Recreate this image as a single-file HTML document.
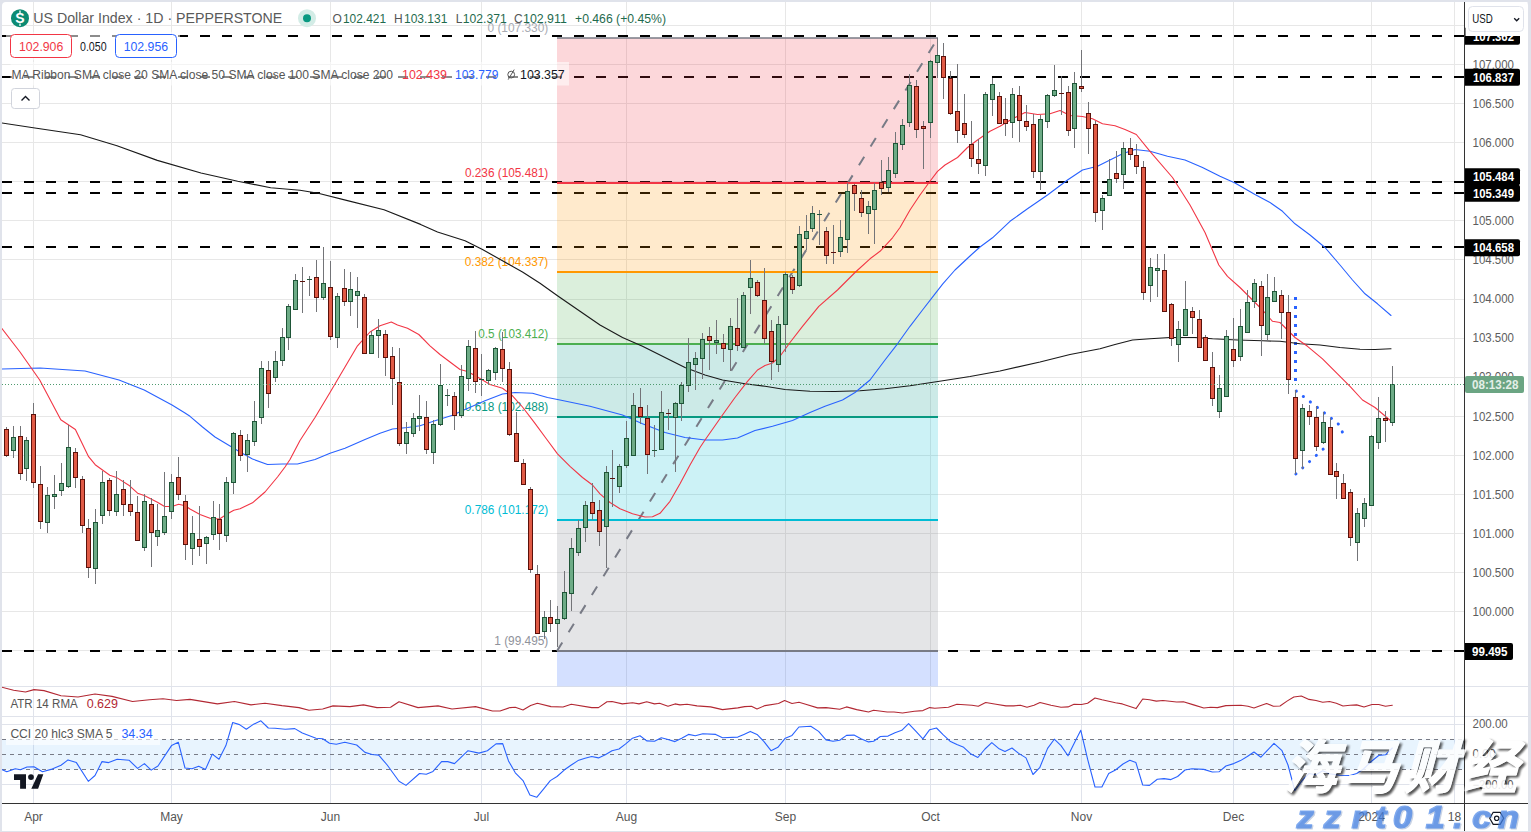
<!DOCTYPE html>
<html><head><meta charset="utf-8"><title>US Dollar Index chart</title>
<style>html,body{margin:0;padding:0;background:#e0e3eb}body{width:1531px;height:832px;overflow:hidden;font-family:"Liberation Sans",sans-serif}</style>
</head><body>
<svg width="1531" height="832" viewBox="0 0 1531 832" font-family="Liberation Sans, sans-serif" style="display:block">
<defs>
<clipPath id="cm"><rect x="2" y="2" width="1462.5" height="684.5"/></clipPath>
<clipPath id="call"><rect x="2" y="2" width="1462.5" height="801.5"/></clipPath>
<filter id="blur" x="-10%" y="-10%" width="120%" height="130%"><feGaussianBlur stdDeviation="0.8"/></filter>
</defs>
<rect width="1531" height="832" fill="#e0e3eb"/>
<path d="M2 6 Q2 2 6 2 H1524 Q1528 2 1528 6 V831 H2 Z" fill="#fff"/>
<path d="M2 650.5 H1464.5 M2 611.5 H1464.5 M2 572.5 H1464.5 M2 533.5 H1464.5 M2 494.5 H1464.5 M2 455.5 H1464.5 M2 416.5 H1464.5 M2 377.5 H1464.5 M2 338.5 H1464.5 M2 299.5 H1464.5 M2 259.5 H1464.5 M2 220.5 H1464.5 M2 181.5 H1464.5 M2 142.5 H1464.5 M2 103.5 H1464.5 M2 64.5 H1464.5 M2 25.5 H1464.5 M33.5 2 V686.5 M171.5 2 V686.5 M330.5 2 V686.5 M481.5 2 V686.5 M626.5 2 V686.5 M785.5 2 V686.5 M930.5 2 V686.5 M1081.5 2 V686.5 M1233.5 2 V686.5 M1371.5 2 V686.5 M1454.5 2 V686.5" stroke="#e7e7e7" stroke-width="1" fill="none"/>
<path d="M33.5 686.5 V803.5 M171.5 686.5 V803.5 M330.5 686.5 V803.5 M481.5 686.5 V803.5 M626.5 686.5 V803.5 M785.5 686.5 V803.5 M930.5 686.5 V803.5 M1081.5 686.5 V803.5 M1233.5 686.5 V803.5 M1371.5 686.5 V803.5 M1454.5 686.5 V803.5 M2 724.5 H1464.5 M2 784.5 H1464.5" stroke="#e0e3eb" stroke-width="1" fill="none"/>
<path d="M2 686.5 H1528 M2 716.5 H1528" stroke="#e0e3eb" stroke-width="1" fill="none"/>
<g clip-path="url(#cm)">
<path d="M2 36 H1464.5" stroke="#000" stroke-width="2" stroke-dasharray="10 12" fill="none"/>
<path d="M2 77 H1464.5" stroke="#000" stroke-width="2" stroke-dasharray="10 12" fill="none"/>
<path d="M2 182 H1464.5" stroke="#000" stroke-width="2" stroke-dasharray="10 12" fill="none"/>
<path d="M2 193 H1464.5" stroke="#000" stroke-width="2" stroke-dasharray="10 12" fill="none"/>
<path d="M2 247 H1464.5" stroke="#000" stroke-width="2" stroke-dasharray="10 12" fill="none"/>
<path d="M2 651 H1464.5" stroke="#000" stroke-width="2" stroke-dasharray="10 12" fill="none"/>
<rect x="557" y="38.0" width="381" height="145.0" fill="rgba(242,54,69,0.2)"/>
<rect x="557" y="183.0" width="381" height="89.0" fill="rgba(255,152,0,0.2)"/>
<rect x="557" y="272.0" width="381" height="72.0" fill="rgba(76,175,80,0.2)"/>
<rect x="557" y="344.0" width="381" height="73.0" fill="rgba(0,150,136,0.2)"/>
<rect x="557" y="417.0" width="381" height="103.0" fill="rgba(0,188,212,0.2)"/>
<rect x="557" y="520.0" width="381" height="131.0" fill="rgba(120,123,134,0.2)"/>
<rect x="557" y="651.0" width="381" height="35.5" fill="rgba(41,98,255,0.2)"/>
<path d="M557 651.0 L938 38.0" stroke="#787b86" stroke-width="2" stroke-dasharray="10 12" fill="none"/>
<path d="M557 38.0 H938" stroke="#787b86" stroke-width="1.5"/>
<path d="M557 183.0 H938" stroke="#f23645" stroke-width="2"/>
<path d="M557 272.0 H938" stroke="#ff9800" stroke-width="2"/>
<path d="M557 344.0 H938" stroke="#4caf50" stroke-width="2"/>
<path d="M557 417.0 H938" stroke="#089981" stroke-width="2"/>
<path d="M557 520.0 H938" stroke="#00bcd4" stroke-width="2"/>
<path d="M557 651.0 H938" stroke="#787b86" stroke-width="2"/>
<text x="487.5" y="32.2" font-size="12" fill="#a9abb3" textLength="60.8" lengthAdjust="spacingAndGlyphs" >0 (107.330)</text>
<text x="464.9" y="177.2" font-size="12" fill="#f23645" textLength="83.4" lengthAdjust="spacingAndGlyphs" >0.236 (105.481)</text>
<text x="464.8" y="266.2" font-size="12" fill="#ff9800" textLength="83.5" lengthAdjust="spacingAndGlyphs" >0.382 (104.337)</text>
<text x="478.3" y="338.2" font-size="12" fill="#4caf50" textLength="70.0" lengthAdjust="spacingAndGlyphs" >0.5 (103.412)</text>
<text x="464.8" y="411.2" font-size="12" fill="#089981" textLength="83.5" lengthAdjust="spacingAndGlyphs" >0.618 (102.488)</text>
<text x="464.8" y="514.2" font-size="12" fill="#00bcd4" textLength="83.5" lengthAdjust="spacingAndGlyphs" >0.786 (101.172)</text>
<text x="494.3" y="645.2" font-size="12" fill="#8f929b" textLength="54.0" lengthAdjust="spacingAndGlyphs" >1 (99.495)</text>
</g>
<g clip-path="url(#cm)">
<path d="M1295.5 297 V382" stroke="#2962ff" stroke-width="3" stroke-dasharray="3 6" fill="none"/>
<path d="M1296.3 391 L1338.1 423.6 L1342.6 432.5" stroke="#2962ff" stroke-width="3" stroke-dasharray="0.1 8.8" stroke-linecap="round" fill="none"/>
<path d="M1295.9 474 L1336.5 437" stroke="#2962ff" stroke-width="3" stroke-dasharray="0.1 9.1" stroke-linecap="round" fill="none"/>
</g>
<g clip-path="url(#cm)">
<polyline points="1.8,123.0 36.6,128.2 80.5,134.7 117.0,145.7 157.3,160.4 201.0,173.0 237.7,181.2 270.7,187.8 300.0,190.3 318.2,193.3 347.5,200.6 384.0,209.7 420.6,224.4 437.5,232.0 465.0,240.8 482.5,249.5 502.5,260.8 522.5,272.0 540.0,283.3 557.5,295.8 580.0,311.3 600.0,325.0 622.5,337.5 642.5,346.3 665.0,357.5 685.0,367.5 705.0,375.0 722.5,380.0 745.0,383.8 765.0,386.3 785.0,389.5 810.0,391.3 835.0,391.5 860.0,390.8 885.0,388.8 910.0,385.8 942.8,380.8 970.0,376.5 1000.0,371.0 1040.0,362.0 1070.0,354.5 1100.0,348.8 1115.0,344.5 1132.5,340.0 1150.0,338.8 1170.0,337.5 1195.0,337.5 1212.5,338.8 1237.5,340.0 1262.5,340.8 1280.0,341.3 1300.0,343.8 1320.0,345.0 1340.0,347.5 1360.0,349.3 1375.0,349.5 1391.0,348.8" fill="none" stroke="#1a1a1a" stroke-width="1.15" stroke-linejoin="round" stroke-linecap="round" />
<polyline points="0.0,369.0 40.0,368.0 85.0,371.0 119.0,380.0 144.2,390.0 172.0,405.0 185.0,413.0 190.0,416.3 202.5,427.0 215.0,437.0 227.5,444.5 240.0,452.0 252.5,459.0 267.5,464.5 282.5,464.0 297.5,464.0 315.0,459.5 330.0,453.3 345.0,448.3 365.0,439.5 380.0,433.3 392.5,429.0 407.5,427.5 420.0,425.8 435.0,420.8 452.5,415.3 465.0,409.5 485.0,400.8 502.5,394.0 515.0,392.5 532.5,393.3 547.5,397.5 560.0,400.0 590.0,406.3 622.5,415.0 642.5,423.8 665.0,432.5 685.0,437.5 705.0,440.0 722.5,440.0 737.5,438.0 755.0,430.5 772.5,426.3 792.5,420.5 810.0,412.5 825.0,406.3 842.5,400.0 855.0,392.5 870.0,380.0 885.0,360.0 897.5,343.8 910.0,326.3 922.5,310.0 935.0,293.8 942.8,283.8 955.0,270.0 970.0,256.0 980.0,247.0 992.5,237.8 1010.0,221.3 1027.5,208.8 1047.5,195.0 1067.5,180.0 1082.5,170.0 1097.5,166.3 1110.0,160.0 1122.5,153.8 1135.0,149.5 1150.0,151.3 1167.5,156.3 1185.0,160.0 1202.5,167.5 1220.0,176.3 1235.0,183.0 1255.0,194.5 1270.0,202.5 1282.5,211.3 1295.0,223.8 1310.0,235.0 1325.0,247.5 1340.0,265.0 1352.5,280.0 1365.0,293.8 1377.5,303.8 1391.0,315.5" fill="none" stroke="#2962ff" stroke-width="1.1" stroke-linejoin="round" stroke-linecap="round" />
<polyline points="0.0,326.0 20.0,352.0 39.7,380.0 60.8,419.7 75.4,429.5 88.6,456.7 95.2,464.7 109.8,475.2 116.4,477.4 129.6,485.8 137.6,493.2 144.2,495.6 157.4,502.2 164.6,506.5 172.0,506.5 178.6,504.3 185.2,505.7 190.0,509.0 200.0,514.5 210.0,518.3 219.5,519.0 227.5,513.8 233.8,510.3 240.0,508.8 252.5,502.8 265.0,492.0 277.5,477.0 285.0,467.0 290.0,459.5 300.0,440.5 315.0,417.5 330.0,392.5 345.0,367.0 357.5,345.8 370.0,332.0 380.0,325.8 391.3,322.0 397.5,325.0 407.5,328.3 418.8,334.5 430.0,345.8 440.0,354.5 450.0,362.0 460.0,369.5 467.5,371.5 477.5,377.0 490.0,384.5 502.5,388.3 512.5,395.8 522.5,407.0 535.0,423.3 546.5,439.0 557.5,453.8 570.0,466.3 582.5,477.5 592.5,485.0 600.0,493.8 610.0,502.5 620.0,508.8 632.5,513.8 645.0,517.0 652.5,516.8 660.0,513.3 670.0,501.3 680.0,483.8 690.0,465.0 700.0,447.5 705.0,440.0 722.5,415.0 735.0,397.5 747.5,381.3 757.5,370.0 765.0,365.5 772.5,363.0 780.0,356.3 790.0,342.5 802.5,326.3 818.8,306.3 837.5,290.0 855.0,272.5 870.0,258.8 880.0,251.3 892.5,237.8 900.0,227.5 910.0,210.0 920.0,195.0 930.0,181.3 937.5,171.3 945.0,165.0 957.5,157.5 967.5,147.5 977.5,140.0 990.0,131.3 1000.0,126.3 1012.5,118.8 1025.0,112.5 1037.5,114.5 1050.0,113.8 1060.0,110.5 1070.0,115.5 1082.5,116.5 1092.5,118.8 1102.5,123.8 1115.0,125.8 1125.0,129.5 1136.3,134.5 1150.0,151.3 1172.5,177.5 1190.0,205.0 1205.0,232.5 1218.8,265.0 1227.5,276.3 1240.0,287.5 1250.0,297.5 1262.5,310.0 1272.5,321.3 1280.0,322.5 1290.0,332.5 1295.0,337.5 1307.5,346.3 1322.5,358.8 1337.5,373.8 1350.0,386.3 1362.5,400.0 1375.0,407.5 1391.0,421.0" fill="none" stroke="#f23645" stroke-width="1.1" stroke-linejoin="round" stroke-linecap="round" />
</g>
<g clip-path="url(#cm)" shape-rendering="crispEdges">
<path d="M6.5 427 V457 M13.5 426 V458 M20.5 426 V480 M26.5 437 V481 M33.5 403 V488 M40.5 466 V529 M47.5 487 V533 M54.5 475 V509 M61.5 463 V496 M68.5 425 V488 M75.5 448 V488 M82.5 476 V533 M88.5 519 V578 M95.5 509 V584 M102.5 471 V524 M109.5 478 V516 M116.5 471 V516 M123.5 480 V516 M130.5 480 V516 M137.5 496 V541 M144.5 494 V551 M151.5 498 V567 M157.5 504 V546 M164.5 472 V535 M171.5 474 V519 M178.5 457 V500 M185.5 495 V560 M192.5 516 V565 M199.5 506 V556 M206.5 536 V564 M213.5 501 V540 M219.5 504 V550 M226.5 477 V542 M233.5 432 V494 M240.5 430 V461 M247.5 434 V472 M254.5 401 V446 M261.5 361 V424 M268.5 361 V408 M275.5 351 V382 M282.5 328 V366 M288.5 304 V350 M295.5 274 V310 M302.5 267 V313 M309.5 276 V296 M316.5 260 V312 M323.5 247 V300 M330.5 261 V340 M337.5 293 V348 M344.5 269 V306 M350.5 272 V316 M357.5 277 V328 M364.5 294 V354 M371.5 331 V354 M378.5 319 V358 M385.5 330 V376 M392.5 347 V405 M399.5 348 V446 M406.5 422 V454 M413.5 413 V437 M419.5 395 V431 M426.5 401 V454 M433.5 420 V464 M440.5 364 V426 M447.5 389 V406 M454.5 392 V430 M461.5 365 V418 M468.5 340 V391 M475.5 331 V393 M481.5 354 V396 M488.5 369 V385 M495.5 347 V380 M502.5 332 V382 M509.5 362 V436 M516.5 412 V462 M523.5 459 V485 M530.5 487 V573 M537.5 565 V634 M544.5 611 V639 M550.5 600 V632 M557.5 606 V647 M564.5 571 V620 M571.5 538 V611 M578.5 520 V556 M585.5 501 V542 M592.5 483 V520 M599.5 500 V546 M606.5 466 V568 M612.5 450 V507 M619.5 464 V493 M626.5 421 V468 M633.5 393 V456 M640.5 388 V424 M647.5 405 V474 M654.5 425 V457 M661.5 391 V450 M668.5 409 V430 M675.5 402 V472 M681.5 382 V421 M688.5 338 V392 M695.5 352 V390 M702.5 333 V379 M709.5 327 V370 M716.5 320 V354 M723.5 334 V362 M730.5 318 V371 M737.5 298 V351 M743.5 292 V348 M750.5 260 V314 M757.5 280 V297 M764.5 268 V344 M771.5 320 V380 M778.5 316 V372 M785.5 272 V352 M792.5 275 V294 M799.5 226 V287 M806.5 215 V250 M812.5 206 V232 M819.5 210 V245 M826.5 227 V264 M833.5 225 V264 M840.5 220 V257 M847.5 183 V253 M854.5 184 V211 M861.5 190 V217 M868.5 201 V234 M874.5 183 V244 M881.5 160 V195 M888.5 157 V192 M895.5 132 V178 M902.5 119 V150 M909.5 74 V127 M916.5 80 V138 M923.5 121 V169 M930.5 60 V138 M937.5 38 V78 M943.5 43 V99 M950.5 71 V115 M957.5 64 V143 M964.5 94 V138 M971.5 121 V167 M978.5 139 V174 M985.5 92 V176 M992.5 78 V116 M999.5 92 V124 M1005.5 98 V136 M1012.5 88 V138 M1019.5 86 V142 M1026.5 105 V131 M1033.5 114 V178 M1040.5 115 V190 M1047.5 94 V128 M1054.5 65 V97 M1061.5 76 V115 M1068.5 86 V136 M1074.5 72 V148 M1081.5 50 V92 M1088.5 102 V154 M1095.5 121 V222 M1102.5 195 V230 M1109.5 159 V196 M1116.5 151 V183 M1123.5 142 V189 M1130.5 138 V160 M1136.5 144 V174 M1143.5 161 V300 M1150.5 258 V302 M1157.5 254 V297 M1164.5 254 V312 M1171.5 303 V346 M1178.5 321 V362 M1185.5 281 V336 M1192.5 307 V334 M1199.5 310 V348 M1205.5 335 V361 M1212.5 352 V406 M1219.5 375 V418 M1226.5 330 V397 M1233.5 318 V367 M1240.5 309 V361 M1247.5 290 V333 M1254.5 279 V308 M1261.5 281 V356 M1267.5 274 V341 M1274.5 277 V302 M1281.5 290 V339 M1288.5 295 V394 M1295.5 390 V474 M1302.5 404 V469 M1309.5 405 V425 M1316.5 406 V451 M1323.5 412 V444 M1330.5 418 V475 M1336.5 463 V499 M1343.5 474 V499 M1350.5 489 V546 M1357.5 508 V561 M1364.5 498 V527 M1371.5 435 V506 M1378.5 397 V449 M1385.5 411 V442 M1392.5 366 V426" stroke="#737478" stroke-width="1" fill="none"/>
<path d="M11.5 437.5 H15.5 V450.5 H11.5 Z M24.5 440.5 H28.5 V468.5 H24.5 Z M45.5 495.5 H49.5 V522.5 H45.5 Z M52.5 494.5 H56.5 V496.5 H52.5 Z M59.5 483.5 H63.5 V490.5 H59.5 Z M66.5 447.5 H70.5 V486.5 H66.5 Z M93.5 522.5 H97.5 V568.5 H93.5 Z M100.5 482.5 H104.5 V515.5 H100.5 Z M114.5 494.5 H118.5 V511.5 H114.5 Z M142.5 501.5 H146.5 V547.5 H142.5 Z M155.5 530.5 H159.5 V536.5 H155.5 Z M162.5 516.5 H166.5 V532.5 H162.5 Z M169.5 482.5 H173.5 V511.5 H169.5 Z M190.5 533.5 H194.5 V548.5 H190.5 Z M204.5 537.5 H208.5 V543.5 H204.5 Z M211.5 517.5 H215.5 V534.5 H211.5 Z M224.5 482.5 H228.5 V535.5 H224.5 Z M231.5 433.5 H235.5 V482.5 H231.5 Z M245.5 440.5 H249.5 V454.5 H245.5 Z M252.5 421.5 H256.5 V441.5 H252.5 Z M259.5 368.5 H263.5 V417.5 H259.5 Z M273.5 361.5 H277.5 V377.5 H273.5 Z M280.5 337.5 H284.5 V360.5 H280.5 Z M286.5 306.5 H290.5 V337.5 H286.5 Z M293.5 280.5 H297.5 V309.5 H293.5 Z M321.5 283.5 H325.5 V297.5 H321.5 Z M335.5 296.5 H339.5 V337.5 H335.5 Z M348.5 289.5 H352.5 V301.5 H348.5 Z M355.5 291.5 H359.5 V295.5 H355.5 Z M369.5 335.5 H373.5 V353.5 H369.5 Z M376.5 330.5 H380.5 V335.5 H376.5 Z M404.5 432.5 H408.5 V443.5 H404.5 Z M411.5 418.5 H415.5 V433.5 H411.5 Z M417.5 416.5 H421.5 V418.5 H417.5 Z M431.5 424.5 H435.5 V452.5 H431.5 Z M438.5 385.5 H442.5 V424.5 H438.5 Z M459.5 376.5 H463.5 V415.5 H459.5 Z M466.5 346.5 H470.5 V378.5 H466.5 Z M486.5 370.5 H490.5 V380.5 H486.5 Z M493.5 348.5 H497.5 V372.5 H493.5 Z M542.5 617.5 H546.5 V631.5 H542.5 Z M555.5 619.5 H559.5 V623.5 H555.5 Z M562.5 592.5 H566.5 V618.5 H562.5 Z M569.5 548.5 H573.5 V593.5 H569.5 Z M576.5 528.5 H580.5 V552.5 H576.5 Z M583.5 505.5 H587.5 V527.5 H583.5 Z M604.5 472.5 H608.5 V526.5 H604.5 Z M617.5 466.5 H621.5 V486.5 H617.5 Z M624.5 438.5 H628.5 V465.5 H624.5 Z M631.5 405.5 H635.5 V455.5 H631.5 Z M659.5 412.5 H663.5 V449.5 H659.5 Z M673.5 403.5 H677.5 V417.5 H673.5 Z M679.5 385.5 H683.5 V403.5 H679.5 Z M686.5 362.5 H690.5 V385.5 H686.5 Z M693.5 358.5 H697.5 V364.5 H693.5 Z M700.5 339.5 H704.5 V358.5 H700.5 Z M714.5 340.5 H718.5 V342.5 H714.5 Z M728.5 326.5 H732.5 V349.5 H728.5 Z M741.5 295.5 H745.5 V347.5 H741.5 Z M748.5 278.5 H752.5 V287.5 H748.5 Z M776.5 324.5 H780.5 V364.5 H776.5 Z M783.5 274.5 H787.5 V324.5 H783.5 Z M797.5 234.5 H801.5 V285.5 H797.5 Z M804.5 231.5 H808.5 V238.5 H804.5 Z M810.5 213.5 H814.5 V228.5 H810.5 Z M838.5 237.5 H842.5 V251.5 H838.5 Z M845.5 191.5 H849.5 V239.5 H845.5 Z M866.5 206.5 H870.5 V213.5 H866.5 Z M872.5 190.5 H876.5 V209.5 H872.5 Z M886.5 170.5 H890.5 V187.5 H886.5 Z M893.5 143.5 H897.5 V173.5 H893.5 Z M900.5 125.5 H904.5 V144.5 H900.5 Z M907.5 85.5 H911.5 V122.5 H907.5 Z M928.5 61.5 H932.5 V122.5 H928.5 Z M935.5 55.5 H939.5 V62.5 H935.5 Z M983.5 94.5 H987.5 V165.5 H983.5 Z M990.5 84.5 H994.5 V99.5 H990.5 Z M1010.5 94.5 H1014.5 V122.5 H1010.5 Z M1038.5 119.5 H1042.5 V171.5 H1038.5 Z M1045.5 95.5 H1049.5 V121.5 H1045.5 Z M1052.5 90.5 H1056.5 V95.5 H1052.5 Z M1072.5 83.5 H1076.5 V128.5 H1072.5 Z M1100.5 198.5 H1104.5 V210.5 H1100.5 Z M1107.5 179.5 H1111.5 V195.5 H1107.5 Z M1121.5 148.5 H1125.5 V174.5 H1121.5 Z M1148.5 267.5 H1152.5 V285.5 H1148.5 Z M1155.5 268.5 H1159.5 V270.5 H1155.5 Z M1176.5 329.5 H1180.5 V344.5 H1176.5 Z M1183.5 309.5 H1187.5 V335.5 H1183.5 Z M1217.5 388.5 H1221.5 V411.5 H1217.5 Z M1224.5 336.5 H1228.5 V396.5 H1224.5 Z M1238.5 326.5 H1242.5 V356.5 H1238.5 Z M1245.5 302.5 H1249.5 V332.5 H1245.5 Z M1252.5 283.5 H1256.5 V301.5 H1252.5 Z M1265.5 297.5 H1269.5 V334.5 H1265.5 Z M1272.5 291.5 H1276.5 V301.5 H1272.5 Z M1300.5 408.5 H1304.5 V450.5 H1300.5 Z M1321.5 422.5 H1325.5 V442.5 H1321.5 Z M1355.5 513.5 H1359.5 V542.5 H1355.5 Z M1362.5 503.5 H1366.5 V518.5 H1362.5 Z M1369.5 436.5 H1373.5 V505.5 H1369.5 Z M1376.5 418.5 H1380.5 V442.5 H1376.5 Z M1390.5 384.5 H1394.5 V422.5 H1390.5 Z" stroke="#1e5537" stroke-width="1" fill="#6dab86"/>
<path d="M4.5 429.5 H8.5 V455.5 H4.5 Z M18.5 436.5 H22.5 V473.5 H18.5 Z M31.5 414.5 H35.5 V482.5 H31.5 Z M38.5 484.5 H42.5 V521.5 H38.5 Z M73.5 452.5 H77.5 V477.5 H73.5 Z M80.5 479.5 H84.5 V525.5 H80.5 Z M86.5 528.5 H90.5 V567.5 H86.5 Z M107.5 480.5 H111.5 V510.5 H107.5 Z M121.5 489.5 H125.5 V504.5 H121.5 Z M128.5 504.5 H132.5 V511.5 H128.5 Z M135.5 512.5 H139.5 V540.5 H135.5 Z M149.5 504.5 H153.5 V532.5 H149.5 Z M176.5 477.5 H180.5 V494.5 H176.5 Z M183.5 501.5 H187.5 V544.5 H183.5 Z M197.5 539.5 H201.5 V546.5 H197.5 Z M217.5 519.5 H221.5 V533.5 H217.5 Z M238.5 435.5 H242.5 V455.5 H238.5 Z M266.5 370.5 H270.5 V393.5 H266.5 Z M314.5 277.5 H318.5 V297.5 H314.5 Z M328.5 287.5 H332.5 V336.5 H328.5 Z M342.5 288.5 H346.5 V301.5 H342.5 Z M362.5 297.5 H366.5 V353.5 H362.5 Z M383.5 334.5 H387.5 V357.5 H383.5 Z M390.5 356.5 H394.5 V378.5 H390.5 Z M397.5 382.5 H401.5 V443.5 H397.5 Z M424.5 417.5 H428.5 V449.5 H424.5 Z M452.5 396.5 H456.5 V415.5 H452.5 Z M473.5 348.5 H477.5 V381.5 H473.5 Z M500.5 349.5 H504.5 V368.5 H500.5 Z M507.5 369.5 H511.5 V434.5 H507.5 Z M514.5 433.5 H518.5 V461.5 H514.5 Z M521.5 463.5 H525.5 V484.5 H521.5 Z M528.5 489.5 H532.5 V569.5 H528.5 Z M535.5 574.5 H539.5 V633.5 H535.5 Z M548.5 617.5 H552.5 V623.5 H548.5 Z M590.5 502.5 H594.5 V513.5 H590.5 Z M597.5 510.5 H601.5 V531.5 H597.5 Z M638.5 407.5 H642.5 V416.5 H638.5 Z M645.5 418.5 H649.5 V454.5 H645.5 Z M707.5 336.5 H711.5 V340.5 H707.5 Z M721.5 343.5 H725.5 V348.5 H721.5 Z M735.5 328.5 H739.5 V345.5 H735.5 Z M755.5 282.5 H759.5 V295.5 H755.5 Z M762.5 300.5 H766.5 V338.5 H762.5 Z M769.5 331.5 H773.5 V361.5 H769.5 Z M790.5 277.5 H794.5 V289.5 H790.5 Z M824.5 231.5 H828.5 V255.5 H824.5 Z M852.5 185.5 H856.5 V193.5 H852.5 Z M859.5 198.5 H863.5 V212.5 H859.5 Z M879.5 182.5 H883.5 V188.5 H879.5 Z M914.5 86.5 H918.5 V129.5 H914.5 Z M921.5 126.5 H925.5 V128.5 H921.5 Z M941.5 56.5 H945.5 V77.5 H941.5 Z M948.5 78.5 H952.5 V113.5 H948.5 Z M955.5 111.5 H959.5 V130.5 H955.5 Z M962.5 123.5 H966.5 V134.5 H962.5 Z M969.5 144.5 H973.5 V158.5 H969.5 Z M976.5 159.5 H980.5 V163.5 H976.5 Z M997.5 96.5 H1001.5 V123.5 H997.5 Z M1003.5 119.5 H1007.5 V123.5 H1003.5 Z M1017.5 95.5 H1021.5 V120.5 H1017.5 Z M1024.5 121.5 H1028.5 V126.5 H1024.5 Z M1031.5 124.5 H1035.5 V171.5 H1031.5 Z M1066.5 92.5 H1070.5 V130.5 H1066.5 Z M1079.5 86.5 H1083.5 V88.5 H1079.5 Z M1086.5 113.5 H1090.5 V128.5 H1086.5 Z M1093.5 124.5 H1097.5 V212.5 H1093.5 Z M1114.5 173.5 H1118.5 V178.5 H1114.5 Z M1128.5 148.5 H1132.5 V154.5 H1128.5 Z M1134.5 155.5 H1138.5 V166.5 H1134.5 Z M1141.5 167.5 H1145.5 V292.5 H1141.5 Z M1162.5 270.5 H1166.5 V311.5 H1162.5 Z M1169.5 304.5 H1173.5 V338.5 H1169.5 Z M1190.5 311.5 H1194.5 V317.5 H1190.5 Z M1197.5 319.5 H1201.5 V347.5 H1197.5 Z M1203.5 337.5 H1207.5 V360.5 H1203.5 Z M1210.5 367.5 H1214.5 V398.5 H1210.5 Z M1231.5 349.5 H1235.5 V360.5 H1231.5 Z M1259.5 286.5 H1263.5 V325.5 H1259.5 Z M1279.5 295.5 H1283.5 V312.5 H1279.5 Z M1286.5 312.5 H1290.5 V379.5 H1286.5 Z M1293.5 397.5 H1297.5 V458.5 H1293.5 Z M1307.5 411.5 H1311.5 V416.5 H1307.5 Z M1314.5 417.5 H1318.5 V446.5 H1314.5 Z M1328.5 427.5 H1332.5 V474.5 H1328.5 Z M1334.5 471.5 H1338.5 V476.5 H1334.5 Z M1341.5 483.5 H1345.5 V498.5 H1341.5 Z M1348.5 492.5 H1352.5 V537.5 H1348.5 Z M1383.5 418.5 H1387.5 V420.5 H1383.5 Z" stroke="#5a110b" stroke-width="1" fill="#e05a45"/>
<path d="M307 279.5 H312 M445 395.5 H450 M479 379.5 H484 M652 450.5 H657 M817 214.5 H822" stroke="#1e5537" stroke-width="1" fill="none"/>
<path d="M300 281.5 H305 M610 478.5 H615 M666 413.5 H671 M831 252.5 H836 M1059 93.5 H1064" stroke="#5a110b" stroke-width="1" fill="none"/>
</g>
<g clip-path="url(#cm)">
<path d="M2 384.5 H1464.5" stroke="#4f9a6f" stroke-width="1" stroke-dasharray="1 2" fill="none"/>
</g>
<g clip-path="url(#call)">
<polyline points="1.7,687.2 13.6,690.3 25.5,692.0 34.0,689.6 44.0,690.6 61.0,695.7 78.0,697.0 95.0,694.0 112.0,696.4 132.5,701.5 149.5,699.8 163.0,698.8 176.6,700.5 190.0,699.4 217.4,703.9 234.4,701.5 251.0,704.9 265.0,703.2 282.0,705.6 299.0,707.6 309.0,710.3 322.7,709.0 333.0,705.9 350.0,706.6 363.5,704.9 377.0,707.6 390.6,707.3 399.0,701.8 418.0,707.6 438.0,705.9 452.0,709.0 475.5,706.6 492.5,711.0 500.0,711.0 510.0,707.6 515.3,707.3 523.0,710.0 530.6,705.6 537.4,703.2 551.0,706.6 563.0,707.0 571.3,704.2 591.7,707.6 598.5,707.6 607.0,701.8 612.0,701.5 622.3,703.9 632.5,702.8 639.0,703.9 646.7,701.8 654.5,703.9 659.6,703.2 668.0,706.2 675.0,703.9 680.0,704.9 687.0,704.2 697.0,705.9 710.6,706.9 722.5,709.6 737.8,707.9 744.6,706.6 751.4,706.2 757.0,709.0 765.0,705.6 778.5,703.5 784.6,700.5 792.0,703.5 799.0,702.2 805.7,704.2 817.6,707.9 826.0,707.6 839.7,709.3 846.5,706.9 856.7,709.6 868.5,712.0 873.6,710.3 887.2,712.0 894.0,712.0 902.5,713.0 914.4,711.3 922.9,710.6 929.7,707.6 934.8,708.3 948.4,707.3 956.9,704.2 972.0,705.2 978.3,706.2 985.7,702.5 996.0,704.2 1006.0,705.9 1013.6,705.9 1020.4,705.2 1027.0,707.3 1034.0,705.2 1040.0,702.5 1051.0,705.2 1061.0,707.3 1068.0,706.9 1074.0,704.2 1081.5,704.5 1087.6,703.2 1095.0,698.0 1102.0,699.8 1115.5,702.8 1122.3,703.9 1136.0,708.6 1142.7,699.0 1149.5,699.8 1156.3,701.1 1163.0,700.5 1176.6,702.0 1183.4,701.8 1193.6,704.9 1203.8,708.0 1210.6,707.3 1217.4,707.6 1225.9,705.6 1241.0,705.2 1248.0,706.2 1254.0,708.0 1261.5,705.2 1266.6,703.5 1273.4,706.2 1280.0,706.0 1287.0,701.1 1293.8,697.0 1301.3,696.0 1309.0,699.4 1316.0,700.5 1322.7,702.2 1329.5,701.5 1336.3,703.2 1343.0,706.0 1350.0,705.2 1356.7,704.9 1364.0,707.0 1372.0,704.5 1378.7,704.5 1385.5,706.2 1392.3,705.2" fill="none" stroke="#b22833" stroke-width="1.1" stroke-linejoin="round" stroke-linecap="round" />
<rect x="2" y="739.5" width="1462.5" height="30" fill="rgba(33,150,243,0.1)"/>
<path d="M2 739.5 H1464.5 M2 754.5 H1464.5 M2 769.5 H1464.5" stroke="#787b86" stroke-width="1" stroke-dasharray="4 4" fill="none"/>
<polyline points="1.7,769.4 6.8,771.8 15.3,768.7 20.4,769.7 27.0,767.0 34.0,766.7 42.5,771.8 51.0,769.4 61.0,765.3 68.0,759.9 76.4,762.6 88.3,781.3 95.0,775.5 102.0,761.6 108.7,762.6 117.2,759.2 129.0,760.2 137.6,768.4 144.4,763.6 151.2,770.1 158.0,766.0 171.5,745.6 178.3,742.2 185.0,768.0 192.0,768.7 198.7,766.3 205.5,769.4 212.3,754.1 219.0,759.2 225.9,745.6 232.7,722.5 239.5,724.6 246.3,729.3 253.0,724.6 260.9,720.8 268.3,728.0 275.0,728.3 285.3,729.3 294.8,728.6 302.3,733.0 316.0,738.2 322.7,738.8 329.5,743.3 336.3,744.3 344.8,742.2 356.7,745.0 365.0,752.4 372.0,754.5 378.7,755.1 387.2,765.0 399.0,781.3 406.0,785.4 419.5,773.5 426.3,774.2 433.0,771.4 441.6,761.6 447.7,761.6 454.5,763.6 468.0,750.7 479.0,753.1 487.4,750.7 496.0,743.9 502.7,743.6 508.5,760.9 515.3,772.8 523.0,780.6 529.9,794.9 536.7,797.3 543.5,789.1 550.3,780.6 557.0,776.5 564.5,769.8 571.3,765.0 578.0,760.6 585.0,758.2 591.7,756.5 598.5,757.9 605.3,754.8 612.0,750.7 619.0,749.0 625.7,743.9 632.5,738.2 640.0,735.8 646.7,740.9 654.5,741.2 661.3,737.8 668.0,739.5 675.0,741.6 681.7,738.2 688.5,734.4 695.3,735.8 702.8,733.7 715.7,734.4 722.5,737.8 737.8,737.1 743.9,734.4 750.3,731.4 757.0,734.4 764.0,741.6 771.0,750.7 777.9,747.3 785.3,738.2 792.0,735.4 798.9,727.0 810.8,726.3 818.6,731.4 826.0,739.9 833.0,741.2 839.7,740.2 846.5,735.4 854.0,735.1 861.0,738.8 868.5,741.9 873.6,741.2 880.4,736.5 888.0,736.1 895.0,732.7 901.8,730.3 908.6,723.6 916.0,731.4 922.9,738.8 929.7,729.7 936.5,728.0 943.3,734.8 950.0,741.2 956.9,744.6 963.7,747.3 971.0,754.1 977.9,757.5 985.0,749.0 991.8,742.6 998.6,748.4 1005.0,751.4 1012.0,748.0 1018.7,753.4 1026.0,757.9 1033.0,774.5 1039.7,767.7 1047.6,748.4 1054.3,739.2 1061.0,745.6 1068.0,755.8 1074.7,742.2 1080.8,730.3 1087.6,759.2 1095.0,787.0 1101.9,787.0 1108.7,773.5 1115.5,770.0 1123.0,764.0 1129.8,760.2 1135.9,762.6 1142.7,785.0 1149.5,785.4 1157.3,779.3 1164.0,778.6 1170.9,779.6 1177.6,776.5 1185.0,770.0 1192.0,768.7 1203.8,769.4 1212.3,772.0 1219.0,771.8 1225.9,766.0 1233.7,763.6 1240.5,760.6 1247.3,756.5 1254.0,752.0 1260.9,757.2 1268.3,749.4 1274.0,743.3 1282.0,750.7 1288.0,765.0 1294.8,790.5 1302.3,780.3 1309.0,773.5 1316.0,774.8 1322.7,770.8 1329.5,773.8 1339.7,775.2 1350.0,775.5 1356.7,773.5 1363.5,769.0 1370.3,762.3 1378.7,755.5 1385.5,754.8 1392.3,748.0" fill="none" stroke="#2962ff" stroke-width="1.1" stroke-linejoin="round" stroke-linecap="round" />
</g>
<path d="M1464.5 2 V831 M2 803.5 H1528" stroke="#333" stroke-width="1" fill="none"/>
<text x="1472.5" y="615.8" font-size="12" fill="#5d5d5d" textLength="41.5" lengthAdjust="spacingAndGlyphs" >100.000</text>
<text x="1472.5" y="576.7" font-size="12" fill="#5d5d5d" textLength="41.5" lengthAdjust="spacingAndGlyphs" >100.500</text>
<text x="1472.5" y="537.7" font-size="12" fill="#5d5d5d" textLength="41.5" lengthAdjust="spacingAndGlyphs" >101.000</text>
<text x="1472.5" y="498.6" font-size="12" fill="#5d5d5d" textLength="41.5" lengthAdjust="spacingAndGlyphs" >101.500</text>
<text x="1472.5" y="459.5" font-size="12" fill="#5d5d5d" textLength="41.5" lengthAdjust="spacingAndGlyphs" >102.000</text>
<text x="1472.5" y="420.5" font-size="12" fill="#5d5d5d" textLength="41.5" lengthAdjust="spacingAndGlyphs" >102.500</text>
<text x="1472.5" y="381.4" font-size="12" fill="#5d5d5d" textLength="41.5" lengthAdjust="spacingAndGlyphs" >103.000</text>
<text x="1472.5" y="342.3" font-size="12" fill="#5d5d5d" textLength="41.5" lengthAdjust="spacingAndGlyphs" >103.500</text>
<text x="1472.5" y="303.3" font-size="12" fill="#5d5d5d" textLength="41.5" lengthAdjust="spacingAndGlyphs" >104.000</text>
<text x="1472.5" y="264.2" font-size="12" fill="#5d5d5d" textLength="41.5" lengthAdjust="spacingAndGlyphs" >104.500</text>
<text x="1472.5" y="225.2" font-size="12" fill="#5d5d5d" textLength="41.5" lengthAdjust="spacingAndGlyphs" >105.000</text>
<text x="1472.5" y="186.1" font-size="12" fill="#5d5d5d" textLength="41.5" lengthAdjust="spacingAndGlyphs" >105.500</text>
<text x="1472.5" y="147.0" font-size="12" fill="#5d5d5d" textLength="41.5" lengthAdjust="spacingAndGlyphs" >106.000</text>
<text x="1472.5" y="108.0" font-size="12" fill="#5d5d5d" textLength="41.5" lengthAdjust="spacingAndGlyphs" >106.500</text>
<text x="1472.5" y="68.9" font-size="12" fill="#5d5d5d" textLength="41.5" lengthAdjust="spacingAndGlyphs" >107.000</text>
<text x="1472.5" y="727.8" font-size="12" fill="#5d5d5d" textLength="35.2" lengthAdjust="spacingAndGlyphs" >200.00</text>
<text x="1472.5" y="758.3" font-size="12" fill="#5d5d5d" textLength="23.0" lengthAdjust="spacingAndGlyphs" >0.00</text>
<text x="1472.5" y="788.8" font-size="12" fill="#5d5d5d" textLength="41.0" lengthAdjust="spacingAndGlyphs" >−200.00</text>
<rect x="1465" y="376" width="59" height="17" rx="2" fill="#6ba583"/>
<text x="1472.0" y="388.8" font-size="12" fill="#e3efe7" font-weight="bold" textLength="46.5" lengthAdjust="spacingAndGlyphs" >08:13:28</text>
<path d="M1465 27.8 H1518 Q1520 27.8 1520 29.8 V42.8 Q1520 44.8 1518 44.8 H1465 Z" fill="#000"/>
<text x="1473.0" y="40.6" font-size="12" fill="#fff" font-weight="bold" textLength="41.0" lengthAdjust="spacingAndGlyphs" >107.362</text>
<path d="M1465 68.8 H1518 Q1520 68.8 1520 70.8 V83.8 Q1520 85.8 1518 85.8 H1465 Z" fill="#000"/>
<text x="1473.0" y="81.6" font-size="12" fill="#fff" font-weight="bold" textLength="41.0" lengthAdjust="spacingAndGlyphs" >106.837</text>
<path d="M1465 168.3 H1518 Q1520 168.3 1520 170.3 V183.3 Q1520 185.3 1518 185.3 H1465 Z" fill="#000"/>
<text x="1473.0" y="181.1" font-size="12" fill="#fff" font-weight="bold" textLength="41.0" lengthAdjust="spacingAndGlyphs" >105.484</text>
<path d="M1465 184.8 H1518 Q1520 184.8 1520 186.8 V199.8 Q1520 201.8 1518 201.8 H1465 Z" fill="#000"/>
<text x="1473.0" y="197.6" font-size="12" fill="#fff" font-weight="bold" textLength="41.0" lengthAdjust="spacingAndGlyphs" >105.349</text>
<path d="M1465 239.2 H1518 Q1520 239.2 1520 241.2 V254.2 Q1520 256.2 1518 256.2 H1465 Z" fill="#000"/>
<text x="1473.0" y="252.0" font-size="12" fill="#fff" font-weight="bold" textLength="41.0" lengthAdjust="spacingAndGlyphs" >104.658</text>
<path d="M1465 642.9 H1511 Q1513 642.9 1513 644.9 V657.9 Q1513 659.9 1511 659.9 H1465 Z" fill="#000"/>
<text x="1472.0" y="655.7" font-size="12" fill="#fff" font-weight="bold" textLength="35.5" lengthAdjust="spacingAndGlyphs" >99.495</text>
<rect x="1465.5" y="2" width="62" height="34" fill="#fff"/>
<rect x="1468.5" y="6.5" width="55" height="25" rx="4" fill="#fff" stroke="#e0e3eb"/>
<text x="1472.3" y="23.0" font-size="12" fill="#131722" textLength="20.5" lengthAdjust="spacingAndGlyphs" >USD</text>
<path d="M1514.2 18.2 L1516.7 20.8 L1519.2 18.2" stroke="#131722" stroke-width="1.3" fill="none"/>
<text x="33.5" y="820.6" font-size="12" fill="#555" text-anchor="middle" >Apr</text>
<text x="171.5" y="820.6" font-size="12" fill="#555" text-anchor="middle" >May</text>
<text x="330.5" y="820.6" font-size="12" fill="#555" text-anchor="middle" >Jun</text>
<text x="481.5" y="820.6" font-size="12" fill="#555" text-anchor="middle" >Jul</text>
<text x="626.5" y="820.6" font-size="12" fill="#555" text-anchor="middle" >Aug</text>
<text x="785.5" y="820.6" font-size="12" fill="#555" text-anchor="middle" >Sep</text>
<text x="930.5" y="820.6" font-size="12" fill="#555" text-anchor="middle" >Oct</text>
<text x="1081.5" y="820.6" font-size="12" fill="#555" text-anchor="middle" >Nov</text>
<text x="1233.5" y="820.6" font-size="12" fill="#555" text-anchor="middle" >Dec</text>
<text x="1371.5" y="820.6" font-size="12" fill="#555" text-anchor="middle" >2024</text>
<text x="1454.5" y="820.6" font-size="12" fill="#555" text-anchor="middle" >18</text>
<g transform="translate(1496.7 818.3)" stroke="#131722" stroke-width="1.2" fill="none"><path d="M-3.5 -6 H3.5 L7 0 L3.5 6 H-3.5 L-7 0 Z"/><circle r="2.2"/></g>
<circle cx="20" cy="18.2" r="9" fill="#0c8b73"/>
<text x="20.0" y="23.2" font-size="14" fill="#fff" text-anchor="middle" font-weight="bold" >S</text>
<path d="M20 10.6 V13 M20 23.6 V26" stroke="#fff" stroke-width="1.3"/>
<text x="33.3" y="23.3" font-size="14" fill="#5a5a5a" textLength="249.0" lengthAdjust="spacingAndGlyphs" >US Dollar Index · 1D · PEPPERSTONE</text>
<circle cx="307" cy="18.2" r="9" fill="#d3ece6"/><circle cx="307" cy="18.2" r="4" fill="#089981"/>
<text x="332.6" y="23.0" font-size="12" fill="#555" >O</text>
<text x="343.0" y="23.0" font-size="13" fill="#1f6b4e" textLength="43.0" lengthAdjust="spacingAndGlyphs" >102.421</text>
<text x="394.0" y="23.0" font-size="12" fill="#555" >H</text>
<text x="404.0" y="23.0" font-size="13" fill="#1f6b4e" textLength="43.4" lengthAdjust="spacingAndGlyphs" >103.131</text>
<text x="455.8" y="23.0" font-size="12" fill="#555" >L</text>
<text x="462.8" y="23.0" font-size="13" fill="#1f6b4e" textLength="43.9" lengthAdjust="spacingAndGlyphs" >102.371</text>
<text x="514.0" y="23.0" font-size="12" fill="#555" >C</text>
<text x="523.0" y="23.0" font-size="13" fill="#1f6b4e" textLength="43.8" lengthAdjust="spacingAndGlyphs" >102.911</text>
<text x="575.0" y="23.0" font-size="13" fill="#1f6b4e" textLength="91.0" lengthAdjust="spacingAndGlyphs" >+0.466 (+0.45%)</text>
<rect x="6" y="32" width="174" height="28" fill="rgba(255,255,255,0.55)"/>
<rect x="10.5" y="34.5" width="61" height="23" rx="4" fill="#fff" stroke="#f23645"/>
<text x="18.9" y="50.7" font-size="13" fill="#f23645" textLength="44.4" lengthAdjust="spacingAndGlyphs" >102.906</text>
<text x="80.0" y="50.5" font-size="12" fill="#131722" textLength="26.6" lengthAdjust="spacingAndGlyphs" >0.050</text>
<rect x="115.5" y="34.5" width="61" height="23" rx="4" fill="#fff" stroke="#2962ff"/>
<text x="123.7" y="50.7" font-size="13" fill="#2962ff" textLength="44.4" lengthAdjust="spacingAndGlyphs" >102.956</text>
<rect x="10.5" y="62" width="558.5" height="23.5" fill="rgba(255,255,255,0.55)"/>
<text x="11.4" y="79.0" font-size="12.5" fill="#555" textLength="381.6" lengthAdjust="spacingAndGlyphs" >MA Ribbon SMA close 20 SMA close 50 SMA close 100 SMA close 200</text>
<text x="402.0" y="79.0" font-size="12.5" fill="#f23645" textLength="45.0" lengthAdjust="spacingAndGlyphs" >102.439</text>
<text x="455.0" y="79.0" font-size="12.5" fill="#2962ff" textLength="43.4" lengthAdjust="spacingAndGlyphs" >103.779</text>
<g stroke="#555" stroke-width="1" fill="none"><circle cx="511.2" cy="74.6" r="3.4"/><path d="M508.2 79.6 L514.2 69.6"/></g>
<text x="520.0" y="79.0" font-size="12.5" fill="#131722" textLength="44.7" lengthAdjust="spacingAndGlyphs" >103.357</text>
<rect x="11.5" y="88.5" width="28" height="20" rx="3" fill="#fff" stroke="#d1d4dc"/>
<path d="M21.5 100.5 L25.5 96.5 L29.5 100.5" stroke="#131722" stroke-width="1.4" fill="none"/>
<text x="10.4" y="707.8" font-size="12.5" fill="#555" textLength="67.4" lengthAdjust="spacingAndGlyphs" >ATR 14 RMA</text>
<text x="86.7" y="707.8" font-size="12.5" fill="#b22833" textLength="31.3" lengthAdjust="spacingAndGlyphs" >0.629</text>
<rect x="6" y="726" width="154" height="19" fill="rgba(255,255,255,0.6)"/>
<text x="10.4" y="737.8" font-size="12.5" fill="#555" textLength="102.0" lengthAdjust="spacingAndGlyphs" >CCI 20 hlc3 SMA 5</text>
<text x="121.4" y="737.8" font-size="12.5" fill="#2962ff" textLength="31.3" lengthAdjust="spacingAndGlyphs" >34.34</text>
<path d="M14 774.3 H26 V788.8 H20.1 V780.1 H14 Z M38.1 774.3 H43.3 L38.1 788.8 H31.3 Z" fill="#131722"/><circle cx="31" cy="777.1" r="2.9" fill="#131722"/>
<mask id="wmm" maskUnits="userSpaceOnUse" x="1270" y="725" width="261" height="90"><rect x="1270" y="725" width="261" height="90" fill="#fff"/><g transform="translate(0 788.2) skewX(-15)" fill="#000" stroke="#000" stroke-width="1.2" stroke-linejoin="round"><text transform="scale(1 1.074)" x="1283.6 1343.4 1403.2 1463.0" y="0" font-size="54" font-weight="bold" font-family="'Liberation Sans', 'Noto Sans CJK SC', sans-serif">海马财经</text></g></mask>
<g mask="url(#wmm)"><g transform="translate(2.2 790.4) skewX(-15)" fill="#111" stroke="#111" stroke-width="1.2" stroke-linejoin="round" opacity="0.7" filter="url(#blur)"><text transform="scale(1 1.074)" x="1283.6 1343.4 1403.2 1463.0" y="0" font-size="54" font-weight="bold" font-family="'Liberation Sans', 'Noto Sans CJK SC', sans-serif">海马财经</text></g></g>
<g transform="translate(0 788.2) skewX(-15)" fill="#fff" stroke="#fff" stroke-width="1.2" stroke-linejoin="round" opacity="0.85"><text transform="scale(1 1.074)" x="1283.6 1343.4 1403.2 1463.0" y="0" font-size="54" font-weight="bold" font-family="'Liberation Sans', 'Noto Sans CJK SC', sans-serif">海马财经</text></g>
<text transform="translate(1297.7 828.8) scale(1.1 1)" font-size="31.5" font-weight="bold" font-style="italic" fill="#3b5f9e" stroke="#3b5f9e" stroke-width="1.2" opacity="0.28">z</text>
<text transform="translate(1324.7 828.8) scale(1.1 1)" font-size="31.5" font-weight="bold" font-style="italic" fill="#3b5f9e" stroke="#3b5f9e" stroke-width="1.2" opacity="0.28">z</text>
<text transform="translate(1352.8 828.8) scale(1.1 1)" font-size="31.5" font-weight="bold" font-style="italic" fill="#3b5f9e" stroke="#3b5f9e" stroke-width="1.2" opacity="0.28">r</text>
<text transform="translate(1376.0 828.8) scale(1.1 1)" font-size="31.5" font-weight="bold" font-style="italic" fill="#3b5f9e" stroke="#3b5f9e" stroke-width="1.2" opacity="0.28">t</text>
<text transform="translate(1394.1 828.8) scale(1.1 1)" font-size="31.5" font-weight="bold" font-style="italic" fill="#3b5f9e" stroke="#3b5f9e" stroke-width="1.2" opacity="0.28">0</text>
<text transform="translate(1426.8 828.8) scale(1.1 1)" font-size="31.5" font-weight="bold" font-style="italic" fill="#3b5f9e" stroke="#3b5f9e" stroke-width="1.2" opacity="0.28">1</text>
<text transform="translate(1454.3 828.8) scale(1.1 1)" font-size="31.5" font-weight="bold" font-style="italic" fill="#3b5f9e" stroke="#3b5f9e" stroke-width="1.2" opacity="0.28">.</text>
<text transform="translate(1473.2 828.8) scale(1.1 1)" font-size="31.5" font-weight="bold" font-style="italic" fill="#3b5f9e" stroke="#3b5f9e" stroke-width="1.2" opacity="0.28">c</text>
<text transform="translate(1499.0 828.8) scale(1.1 1)" font-size="31.5" font-weight="bold" font-style="italic" fill="#3b5f9e" stroke="#3b5f9e" stroke-width="1.2" opacity="0.28">n</text>
<text transform="translate(1296.4 827.5) scale(1.1 1)" font-size="31.5" font-weight="bold" font-style="italic" fill="#4281e7" stroke="#4281e7" stroke-width="1.2" opacity="0.68">z</text>
<text transform="translate(1323.4 827.5) scale(1.1 1)" font-size="31.5" font-weight="bold" font-style="italic" fill="#4281e7" stroke="#4281e7" stroke-width="1.2" opacity="0.68">z</text>
<text transform="translate(1351.5 827.5) scale(1.1 1)" font-size="31.5" font-weight="bold" font-style="italic" fill="#4281e7" stroke="#4281e7" stroke-width="1.2" opacity="0.68">r</text>
<text transform="translate(1374.7 827.5) scale(1.1 1)" font-size="31.5" font-weight="bold" font-style="italic" fill="#4281e7" stroke="#4281e7" stroke-width="1.2" opacity="0.68">t</text>
<text transform="translate(1392.8 827.5) scale(1.1 1)" font-size="31.5" font-weight="bold" font-style="italic" fill="#4281e7" stroke="#4281e7" stroke-width="1.2" opacity="0.68">0</text>
<text transform="translate(1425.5 827.5) scale(1.1 1)" font-size="31.5" font-weight="bold" font-style="italic" fill="#4281e7" stroke="#4281e7" stroke-width="1.2" opacity="0.68">1</text>
<text transform="translate(1453.0 827.5) scale(1.1 1)" font-size="31.5" font-weight="bold" font-style="italic" fill="#4281e7" stroke="#4281e7" stroke-width="1.2" opacity="0.68">.</text>
<text transform="translate(1471.9 827.5) scale(1.1 1)" font-size="31.5" font-weight="bold" font-style="italic" fill="#4281e7" stroke="#4281e7" stroke-width="1.2" opacity="0.68">c</text>
<text transform="translate(1497.7 827.5) scale(1.1 1)" font-size="31.5" font-weight="bold" font-style="italic" fill="#4281e7" stroke="#4281e7" stroke-width="1.2" opacity="0.68">n</text>
<rect x="1528" y="0" width="3" height="832" fill="#e0e3eb"/><rect x="0" y="831" width="1531" height="1" fill="#e0e3eb"/>
</svg>
</body></html>
